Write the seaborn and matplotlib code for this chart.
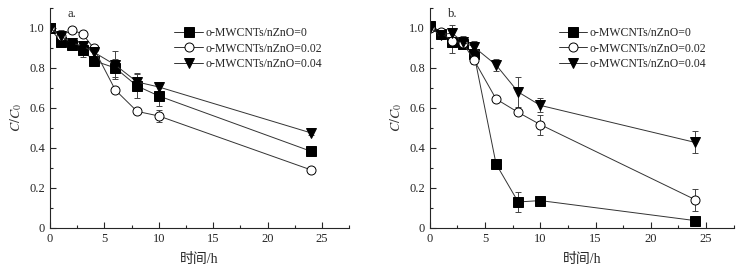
import numpy as np
import pandas as pd
import matplotlib
matplotlib.use("Agg")
import matplotlib.pyplot as plt
import seaborn as sns
from matplotlib.ticker import MultipleLocator, FuncFormatter

# time points (h)
time_h = [0, 1, 2, 3, 4, 6, 8, 10, 24]
series_names = ["o-MWCNTs/nZnO=0", "o-MWCNTs/nZnO=0.02", "o-MWCNTs/nZnO=0.04"]

# panel a
a_r0 = [1.00, 0.93, 0.917, 0.89, 0.837, 0.80, 0.71, 0.66, 0.383]
a_r002 = [1.00, 0.96, 0.99, 0.97, 0.90, 0.69, 0.583, 0.56, 0.29]
a_r004 = [1.00, 0.96, 0.925, 0.91, 0.88, 0.815, 0.73, 0.705, 0.475]
a_e0 = [0.01, 0.02, 0.02, 0.035, 0.02, 0.045, 0.06, 0.05, 0.01]
a_e002 = [0.01, 0.01, 0.01, 0.01, 0.01, 0.01, 0.01, 0.03, 0.01]
a_e004 = [0.01, 0.03, 0.02, 0.02, 0.02, 0.07, 0.045, 0.02, 0.01]

# panel b
b_r0 = [1.01, 0.97, 0.93, 0.92, 0.87, 0.32, 0.13, 0.137, 0.037]
b_r002 = [1.00, 0.98, 0.935, 0.925, 0.84, 0.645, 0.578, 0.517, 0.142]
b_r004 = [1.00, 0.965, 0.975, 0.93, 0.905, 0.815, 0.68, 0.613, 0.428]
b_e0 = [0.01, 0.01, 0.02, 0.02, 0.02, 0.01, 0.05, 0.01, 0.01]
b_e002 = [0.01, 0.01, 0.06, 0.02, 0.02, 0.01, 0.01, 0.05, 0.055]
b_e004 = [0.01, 0.02, 0.04, 0.03, 0.03, 0.03, 0.075, 0.035, 0.055]

sns.set_style("ticks")
plt.rcParams["font.family"] = ["Liberation Serif", "Noto Sans CJK SC"]
plt.rcParams["mathtext.fontset"] = "stix"

markers = ["s", "o", "v"]
mfcs = ["black", "white", "black"]
msizes = [6.5, 6.5, 7.5]


def draw_panel(ax, vals, errs, tag, leg_x):
    for name, v, e, m, fc, ms in zip(series_names, vals, errs, markers, mfcs, msizes):
        df = pd.DataFrame({"t": time_h, "c": v})
        ax.errorbar(df["t"], df["c"], yerr=e, fmt="none", ecolor="#444444",
                    elinewidth=0.7, capsize=2, capthick=0.7, zorder=1)
        sns.lineplot(data=df, x="t", y="c", ax=ax, color="#333333", lw=0.7,
                     marker=m, markersize=ms, markerfacecolor=fc,
                     markeredgecolor="black", markeredgewidth=0.7,
                     errorbar=None, label=name, zorder=2)
    ax.set_xlim(0, 27.5)
    ax.set_ylim(0, 1.1)
    ax.xaxis.set_major_locator(MultipleLocator(5))
    ax.xaxis.set_minor_locator(MultipleLocator(2.5))
    ax.yaxis.set_major_locator(MultipleLocator(0.2))
    ax.yaxis.set_minor_locator(MultipleLocator(0.1))
    ax.yaxis.set_major_formatter(FuncFormatter(lambda v, p: "0" if abs(v) < 1e-9 else f"{v:.1f}"))
    ax.tick_params(which="both", direction="in", labelsize=9, width=0.8)
    ax.tick_params(which="major", length=4)
    ax.tick_params(which="minor", length=2.5)
    for s in ["top", "right"]:
        ax.spines[s].set_visible(False)
    for s in ["left", "bottom"]:
        ax.spines[s].set_linewidth(0.8)
    ax.set_xlabel("时间/h", fontsize=10, labelpad=6)
    ax.set_ylabel("$C/C_0$", fontsize=10, color="#333333")
    ax.text(0.06, 1.0, tag, transform=ax.transAxes, fontsize=9, va="top")
    ax.legend(loc="upper left", bbox_to_anchor=(leg_x, 0.935), frameon=False,
              fontsize=8.5, handlelength=2.4, handletextpad=0.2, labelspacing=0.3,
              borderaxespad=0)


fig = plt.figure(figsize=(7.54, 2.75), dpi=100)
ax1 = fig.add_axes([0.0663, 0.171, 0.397, 0.80])
ax2 = fig.add_axes([0.570, 0.171, 0.403, 0.80])

draw_panel(ax1, [a_r0, a_r002, a_r004], [a_e0, a_e002, a_e004], "a.", 0.40)
draw_panel(ax2, [b_r0, b_r002, b_r004], [b_e0, b_e002, b_e004], "b.", 0.41)

fig.savefig("out.png", dpi=100)
